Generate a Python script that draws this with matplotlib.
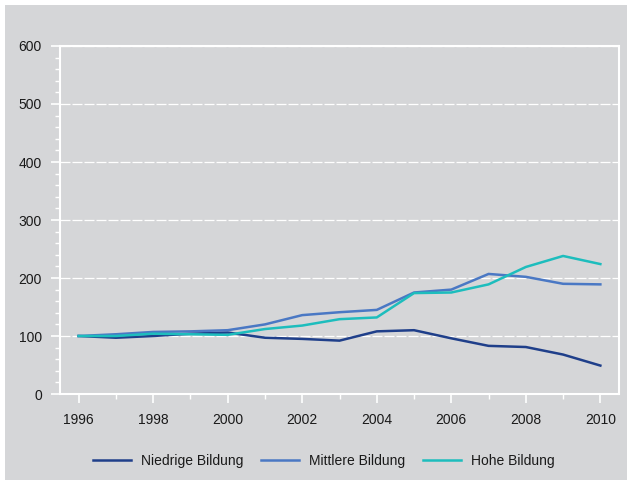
import numpy as np
import matplotlib
matplotlib.use("Agg")
import matplotlib.pyplot as plt
from matplotlib.patches import Rectangle
from matplotlib.ticker import MultipleLocator

plt.rcParams['font.family'] = ['Liberation Sans', 'DejaVu Sans']

years = list(range(1996, 2011))
niedrige = [100, 97, 100, 104, 106, 97, 95, 92, 108, 110, 96, 83, 81, 68, 49]
mittlere = [100, 103, 107, 108, 110, 120, 136, 141, 145, 175, 180, 207, 202, 190, 189]
hohe = [100, 100, 104, 103, 102, 112, 118, 129, 132, 174, 175, 189, 219, 238, 224]

labels = ['Niedrige Bildung', 'Mittlere Bildung', 'Hohe Bildung']
colors = ['#1f3f8a', '#4a78c4', '#1dbdbd']

bg = '#d5d6d8'
txt = '#1a1a1a'

fig = plt.figure(figsize=(6.29, 4.83), dpi=100, facecolor='white')
W, H = 629, 483
# grey panel behind everything, with a thin white margin
fig.patches.append(Rectangle((5 / W, 3 / H), 622 / W, 475 / H,
                             transform=fig.transFigure, facecolor=bg,
                             edgecolor='none', zorder=-10))

ax = fig.add_axes([60 / W, (H - 394) / H, 559 / W, 348 / H])
ax.set_facecolor(bg)

for y, lab, c in zip([niedrige, mittlere, hohe], labels, colors):
    ax.plot(years, y, color=c, lw=1.8, label=lab, solid_joinstyle='round')

ax.set_xlim(1995.5, 2010.5)
ax.set_ylim(0, 600)
ax.xaxis.set_major_locator(MultipleLocator(2))
ax.xaxis.set_minor_locator(MultipleLocator(1))
ax.yaxis.set_major_locator(MultipleLocator(100))
ax.yaxis.set_minor_locator(MultipleLocator(20))

for s in ax.spines.values():
    s.set_color('white')
    s.set_linewidth(1.5)

ax.tick_params(which='major', length=6.5, width=1.2, color='white',
               labelsize=10, labelcolor=txt, direction='out')
ax.tick_params(which='minor', length=3.5, width=1, color='white', direction='out')
ax.tick_params(axis='x', which='major', pad=7)
ax.tick_params(axis='y', which='major', pad=6.5)

ax.grid(axis='y', which='major', color='white', lw=0.9, linestyle=(0, (8, 1.6)))
ax.set_axisbelow(True)

fig.legend(loc='center', bbox_to_anchor=(324 / W, (H - 461) / H),
           ncol=3, frameon=False, fontsize=10, labelcolor=txt,
           handlelength=2.7, handletextpad=0.75, columnspacing=1.3)

fig.savefig('out.png', dpi=100, facecolor='white')
